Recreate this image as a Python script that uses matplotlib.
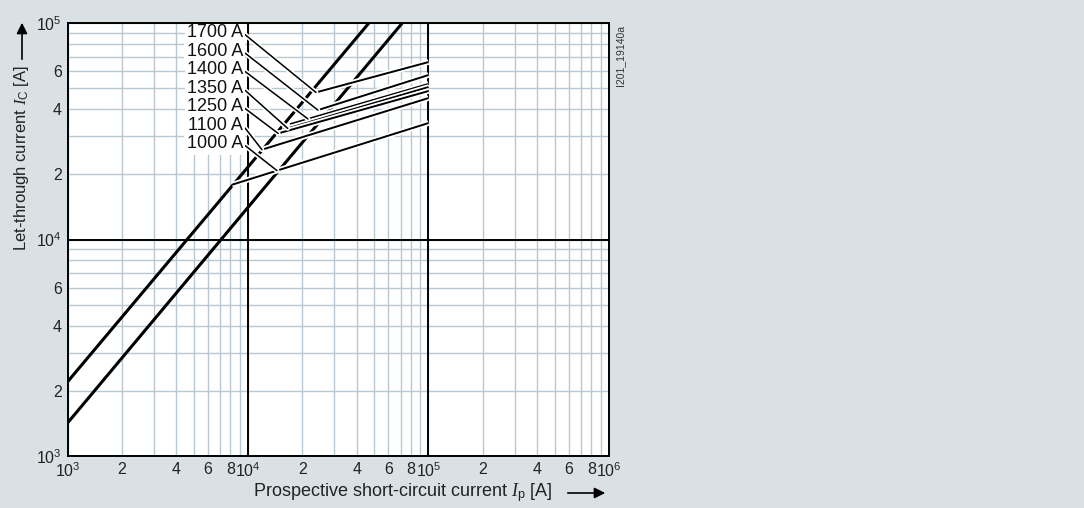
"""
Let-through current diagram (Ic vs Ip), log-log, with fuse rating fan lines.
-> writes out.png
"""
import numpy as np
import matplotlib
matplotlib.use("Agg")
import matplotlib.pyplot as plt
import matplotlib.patheffects as pe
from matplotlib.ticker import FixedLocator, FixedFormatter, LogLocator, NullFormatter

plt.rcParams["font.family"] = ["Liberation Sans", "DejaVu Sans"]
plt.rcParams["mathtext.fontset"] = "custom"
plt.rcParams["mathtext.rm"] = "Liberation Sans"
plt.rcParams["mathtext.it"] = "Liberation Serif:italic"

BG = "#d9e1e4"
GRID = "#b9c8d0"

# steep limiting curves (Ip -> Ic)
UPPER_IP = [1e3, 4.68e4]
UPPER_IC = [2200, 1e5]
LOWER_IP = [1e3, 7.16e4]
LOWER_IC = [1420, 1e5]

# fan lines per rating
RATINGS = ["1700 A", "1600 A", "1400 A", "1350 A", "1250 A", "1100 A", "1000 A"]
FAN_START_IP = [23800, 24400, 17100, 15600, 14300, 11950, 8150]
FAN_START_IC = [47800, 39600, 34100, 32100, 30700, 26000, 17900]
FAN_END_IP = [1e5, 1e5, 1e5, 1e5, 1e5, 1e5, 1e5]
FAN_END_IC = [66000, 57500, 52300, 50600, 48500, 45000, 34500]
LEADER_IP = [23800, 24400, 21500, 16600, 14700, 11950, 14480]

X_TICKS = [1e3, 2e3, 4e3, 6e3, 8e3, 1e4, 2e4, 4e4, 6e4, 8e4, 1e5, 2e5, 4e5, 6e5, 8e5, 1e6]
X_LABELS = [r"$\mathregular{10^3}$", "2", "4", "6", "8",
            r"$\mathregular{10^4}$", "2", "4", "6", "8",
            r"$\mathregular{10^5}$", "2", "4", "6", "8", r"$\mathregular{10^6}$"]
Y_TICKS = [1e3, 2e3, 4e3, 6e3, 1e4, 2e4, 4e4, 6e4, 1e5]
Y_LABELS = [r"$\mathregular{10^3}$", "2", "4", "6",
            r"$\mathregular{10^4}$", "2", "4", "6", r"$\mathregular{10^5}$"]


def leader_target(i):
    # point on the fan line at LEADER_IP[i] (log interpolation)
    lx = np.log10([FAN_START_IP[i], FAN_END_IP[i]])
    ly = np.log10([FAN_START_IC[i], FAN_END_IC[i]])
    x = LEADER_IP[i]
    return x, 10 ** np.interp(np.log10(x), lx, ly)


def main():
    fig = plt.figure(figsize=(10.84, 5.08), dpi=100, facecolor=BG)
    ax = fig.add_axes([0.06227, 0.10236, 0.4995, 0.85236])
    ax.set_facecolor("white")
    ax.set_xscale("log")
    ax.set_yscale("log")
    ax.set_xlim(1e3, 1e6)
    ax.set_ylim(1e3, 1e5)

    ax.xaxis.set_major_locator(FixedLocator(X_TICKS))
    ax.xaxis.set_major_formatter(FixedFormatter(X_LABELS))
    ax.yaxis.set_major_locator(FixedLocator(Y_TICKS))
    ax.yaxis.set_major_formatter(FixedFormatter(Y_LABELS))

    # grid : all 2..9 subdivisions (labelled ones are majors, others minors)
    ax.xaxis.set_minor_locator(LogLocator(base=10, subs=np.arange(2, 10), numticks=100))
    ax.yaxis.set_minor_locator(LogLocator(base=10, subs=np.arange(2, 10), numticks=100))
    ax.xaxis.set_minor_formatter(NullFormatter())
    ax.yaxis.set_minor_formatter(NullFormatter())
    ax.grid(which="both", color=GRID, lw=1.0, zorder=0.5)
    ax.set_axisbelow(True)
    for v in (1e4, 1e5):
        ax.axvline(v, color="black", lw=1.4, zorder=1)
    ax.axhline(1e4, color="black", lw=1.4, zorder=1)

    ax.tick_params(which="major", length=0, labelsize=11.5, pad=4, colors="#222222")
    ax.tick_params(which="minor", length=0)
    for s in ax.spines.values():
        s.set_linewidth(1.4)
        s.set_zorder(10)

    halo = [pe.Stroke(linewidth=4, foreground="white"), pe.Normal()]

    ax.plot(UPPER_IP, UPPER_IC, color="black", lw=2.2, zorder=2, solid_capstyle="butt")
    ax.plot(LOWER_IP, LOWER_IC, color="black", lw=2.2, zorder=2, solid_capstyle="butt")

    for i in range(len(RATINGS)):
        ax.plot([FAN_START_IP[i], FAN_END_IP[i]], [FAN_START_IC[i], FAN_END_IC[i]],
                color="black", lw=1.4, zorder=3, path_effects=halo,
                solid_capstyle="butt")

    for i, lab in enumerate(RATINGS):
        ax.annotate(lab, xy=leader_target(i), xycoords="data",
                    xytext=(0.3241, 0.977 - i * 0.0427), textcoords="axes fraction",
                    ha="right", va="center", fontsize=13, color="#111111", zorder=5,
                    bbox=dict(facecolor="white", edgecolor="none", pad=1.5),
                    arrowprops=dict(arrowstyle="-", color="black", lw=1.1,
                                    shrinkA=0, shrinkB=0, relpos=(1, 0.5),
                                    path_effects=[pe.Stroke(linewidth=3.5, foreground="white"),
                                                  pe.Normal()]))

    # axis titles with arrows
    fig.text(22 / 1084, 1 - 158 / 508, r"Let-through current $\mathit{I}_\mathrm{C}$ [A]",
             rotation=90, ha="center", va="center", fontsize=12, color="#222222")
    fig.add_artist(matplotlib.patches.FancyArrowPatch(
        (22 / 1084, 1 - 62 / 508), (22 / 1084, 1 - 20 / 508), transform=fig.transFigure,
        arrowstyle="-|>", mutation_scale=16, color="black", lw=1.2))

    fig.text(552 / 1084, 1 - 493 / 508, r"Prospective short-circuit current $\mathit{I}_\mathrm{p}$ [A]",
             ha="right", va="center", fontsize=13, color="#222222")
    fig.add_artist(matplotlib.patches.FancyArrowPatch(
        (565 / 1084, 1 - 493 / 508), (608 / 1084, 1 - 493 / 508), transform=fig.transFigure,
        arrowstyle="-|>", mutation_scale=16, color="black", lw=1.2))

    fig.text(620 / 1084, 1 - 55 / 508, "I201_19140a", rotation=90, ha="center", va="center",
             fontsize=7.5, color="#333333")

    fig.savefig("out.png", dpi=100, facecolor=BG)


if __name__ == "__main__":
    main()
